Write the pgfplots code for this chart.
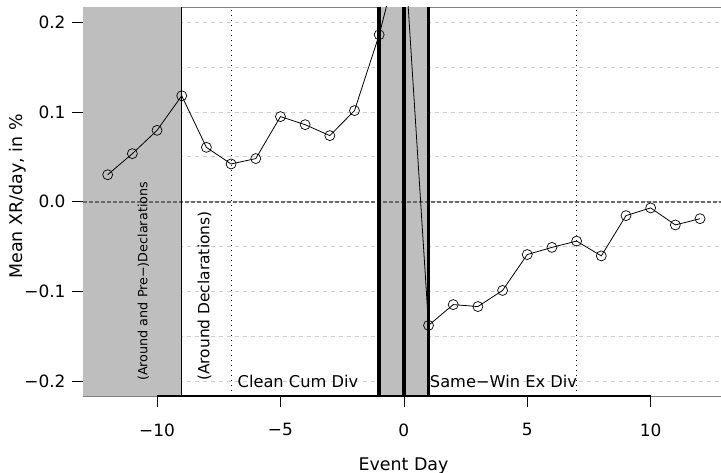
\documentclass[border=0pt]{standalone}
\usepackage{fontspec}
\setmainfont{DejaVu Sans}
\usepackage{pgfplots}
\pgfplotsset{compat=1.18}
\definecolor{shadegray}{RGB}{190,190,190}
\definecolor{gridc}{RGB}{205,205,205}
\definecolor{zeroc}{RGB}{105,105,105}
\begin{document}
\begin{tikzpicture}
\def\ymn{-0.2167}
\def\ymx{0.2170}
\begin{axis}[
  name=ax,
  scale only axis,
  width=638bp, height=389bp,
  xmin=-13, xmax=12.85,
  ymin=\ymn, ymax=\ymx,
  clip mode=individual,
  axis line style={color=gray, line width=0.8pt},
  tick align=outside,
  major tick length=11bp,
  minor tick length=0pt,
  tick style={black, line width=0.7pt},
  xtick={-10,-5,0,5,10},
  xticklabels={−10,−5,0,5,10},
  ytick={-0.2,-0.1,0,0.1,0.2},
  yticklabels={−0.2,−0.1,0.0,0.1,0.2},
  minor ytick={-0.15,-0.05,0.05,0.15},
  ymajorgrids, yminorgrids,
  major grid style={gridc, line width=0.7pt, dash pattern=on 4bp off 4bp},
  minor grid style={gridc, line width=0.7pt, dash pattern=on 4bp off 4bp},
  xtick pos=bottom, ytick pos=left,
  ticklabel style={font=\fontsize{17}{17}\selectfont},
  xticklabel style={yshift=-13bp},
  yticklabel style={xshift=-3bp},
]
\fill[shadegray] (axis cs:-13,\ymn) rectangle (axis cs:-9,\ymx);
\fill[shadegray] (axis cs:-1,\ymn) rectangle (axis cs:1,\ymx);
\draw[zeroc, line width=2pt, dash pattern=on 4bp off 2bp] (axis cs:-13,0) -- (axis cs:12.85,0);
\draw[black, line width=1.1pt] (axis cs:-9,\ymn) -- (axis cs:-9,\ymx);
\draw[black, line width=3.8pt] (axis cs:-1,\ymn) -- (axis cs:-1,\ymx);
\draw[black, line width=3.8pt] (axis cs:0,\ymn) -- (axis cs:0,\ymx);
\draw[black, line width=3.8pt] (axis cs:1,\ymn) -- (axis cs:1,\ymx);
\draw[black, line width=1pt, dash pattern=on 1bp off 4bp] (axis cs:-7,\ymn) -- (axis cs:-7,\ymx);
\draw[black, line width=1pt, dash pattern=on 1bp off 4bp] (axis cs:7,\ymn) -- (axis cs:7,\ymx);
\draw[black, line width=1.2pt] (axis cs:-10,\ymn) -- (axis cs:10,\ymn);
\addplot[black, line width=0.8pt, mark=o, mark size=5bp, mark options={solid, fill=none, line width=0.7pt}] coordinates {
(-12,0.030) (-11,0.0535) (-10,0.0795) (-9,0.118) (-8,0.0605) (-7,0.042)
(-6,0.048) (-5,0.0948) (-4,0.0858) (-3,0.0736) (-2,0.1015) (-1,0.186)
(0,0.293) (1,-0.138) (2,-0.1148) (3,-0.117) (4,-0.099) (5,-0.059)
(6,-0.051) (7,-0.044) (8,-0.0605) (9,-0.0156) (10,-0.007) (11,-0.026) (12,-0.019)
};
\node[rotate=90, anchor=west, inner sep=0pt, font=\fontsize{12.8}{12.8}\selectfont] at (axis cs:-10.55,-0.2) {(Around and Pre−)Declarations};
\node[rotate=90, anchor=west, inner sep=0pt, font=\fontsize{15.5}{15.5}\selectfont] at (axis cs:-8.08,-0.2) {(Around Declarations)};
\node[anchor=west, inner sep=0pt, font=\fontsize{16.3}{16.3}\selectfont] at (axis cs:-6.74,-0.2) {Clean Cum Div};
\node[anchor=west, inner sep=0pt, font=\fontsize{16.3}{16.3}\selectfont] at (axis cs:1.05,-0.2) {Same−Win Ex Div};
\end{axis}
\node[rotate=90, inner sep=0pt, font=\fontsize{17.5}{17.5}\selectfont] at ([shift={(-65.5bp,5bp)}]ax.west) {Mean XR/day, in \%};
\node[anchor=base, inner sep=0pt, font=\fontsize{17.5}{17.5}\selectfont] at ([shift={(1.5bp,-74bp)}]ax.south) {Event Day};
\pgfresetboundingbox
\path[use as bounding box] ([shift={(-83bp,-77bp)}]ax.south west) rectangle ([shift={(0bp,7bp)}]ax.north east);
\end{tikzpicture}
\end{document}
